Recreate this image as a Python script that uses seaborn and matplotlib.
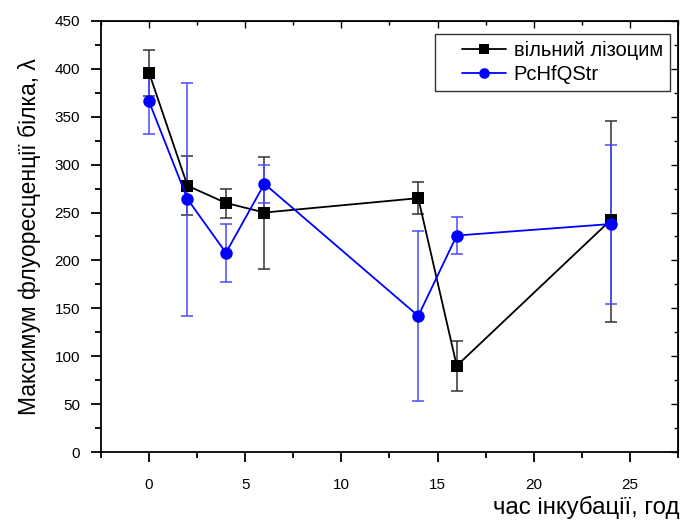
import numpy as np
import pandas as pd
import seaborn as sns
import matplotlib
matplotlib.use("Agg")
import matplotlib.pyplot as plt
from matplotlib.ticker import MultipleLocator
from matplotlib.lines import Line2D
from matplotlib.legend_handler import HandlerLine2D

hours = [0, 2, 4, 6, 14, 16, 24]
free_mean = [396, 278, 260, 250, 265, 90, 242]
free_low = [372, 247, 244, 191, 248, 64, 136]
free_high = [420, 309, 275, 308, 282, 116, 346]
pc_mean = [366, 264, 208, 280, 142, 226, 238]
pc_low = [332, 142, 178, 260, 53, 207, 154]
pc_high = [400, 385, 238, 300, 231, 245, 320]
series_names = ["вільний лізоцим", "PcHfQStr"]

sns.set_style("ticks")
plt.rcParams['font.family'] = ['Liberation Sans', 'DejaVu Sans']
plt.rcParams['text.color'] = 'black'
plt.rcParams['axes.labelcolor'] = 'black'
plt.rcParams['xtick.color'] = 'black'
plt.rcParams['ytick.color'] = 'black'

df = pd.DataFrame({
    "x": hours * 2,
    "y": free_mean + pc_mean,
    "s": [series_names[0]] * len(hours) + [series_names[1]] * len(hours),
})

fig = plt.figure(figsize=(6.82, 5.24), dpi=100)
ax = fig.add_axes([0.148, 0.1374, 0.846, 0.8226])

colors = {series_names[0]: "black", series_names[1]: "#0000ff"}
ecolors = ["#333333", "#4a4aff"]
for name, mean, lo, hi, ec in [(series_names[0], free_mean, free_low, free_high, ecolors[0]),
                               (series_names[1], pc_mean, pc_low, pc_high, ecolors[1])]:
    m = np.array(mean); yerr = [m - np.array(lo), np.array(hi) - m]
    ax.errorbar(hours, m, yerr=yerr, fmt="none", ecolor=ec, elinewidth=1.1,
                capsize=4, capthick=1.1, zorder=2)

sns.lineplot(data=df, x="x", y="y", hue="s", style="s", palette=colors,
             markers={series_names[0]: "s", series_names[1]: "o"},
             dashes=False, markersize=9, markeredgewidth=0, linewidth=1.3,
             ax=ax, zorder=3)

ax.set_xlim(-2.5, 27.5)
ax.set_ylim(0, 450)
ax.xaxis.set_major_locator(MultipleLocator(5))
ax.xaxis.set_minor_locator(MultipleLocator(2.5))
ax.yaxis.set_major_locator(MultipleLocator(50))
ax.yaxis.set_minor_locator(MultipleLocator(25))
ax.tick_params(axis="both", which="both", bottom=True, left=True, top=False, right=False)
ax.tick_params(axis="both", which="major", direction="out", length=7, width=1.3,
               labelsize=11, color="black", labelcolor="black")
ax.tick_params(axis="both", which="minor", direction="out", length=4, width=1.3, color="black")
ax.tick_params(axis="x", which="major", pad=12)
ax.tick_params(axis="y", which="major", pad=8)

for sp in ax.spines.values():
    sp.set_visible(True)
    sp.set_color("black")
    sp.set_linewidth(1.3)

top = ax.secondary_xaxis("top")
top.xaxis.set_major_locator(MultipleLocator(5))
top.xaxis.set_minor_locator(MultipleLocator(2.5))
top.tick_params(which="both", top=True, bottom=False, labeltop=False)
top.tick_params(which="major", direction="in", length=5, width=1.0)
top.tick_params(which="minor", direction="in", length=3, width=1.0)
right = ax.secondary_yaxis("right")
right.yaxis.set_major_locator(MultipleLocator(50))
right.yaxis.set_minor_locator(MultipleLocator(25))
right.tick_params(which="both", right=True, left=False, labelright=False)
right.tick_params(which="major", direction="in", length=5, width=1.0)
right.tick_params(which="minor", direction="in", length=3, width=1.0)

ax.set_xlabel("")
ax.set_ylabel("Максимум флуоресценції білка, λ", fontsize=16.5, labelpad=10, color="black")
fig.text(0.997, 0.01, "час інкубації, год", ha="right", va="bottom", fontsize=17.3, color="black")

leg = ax.legend(loc="upper right", bbox_to_anchor=(0.986, 0.970), borderaxespad=0,
                fontsize=14.5, frameon=True, fancybox=False, edgecolor="black",
                handlelength=3.15, handletextpad=0.4,
                borderpad=0.35, labelspacing=0.25, markerscale=0.85,
                handler_map={Line2D: HandlerLine2D(xpad=1.0)})
leg.get_frame().set_linewidth(1.0)
for t in leg.get_texts():
    t.set_color("black")

fig.savefig("out.png", dpi=100)
